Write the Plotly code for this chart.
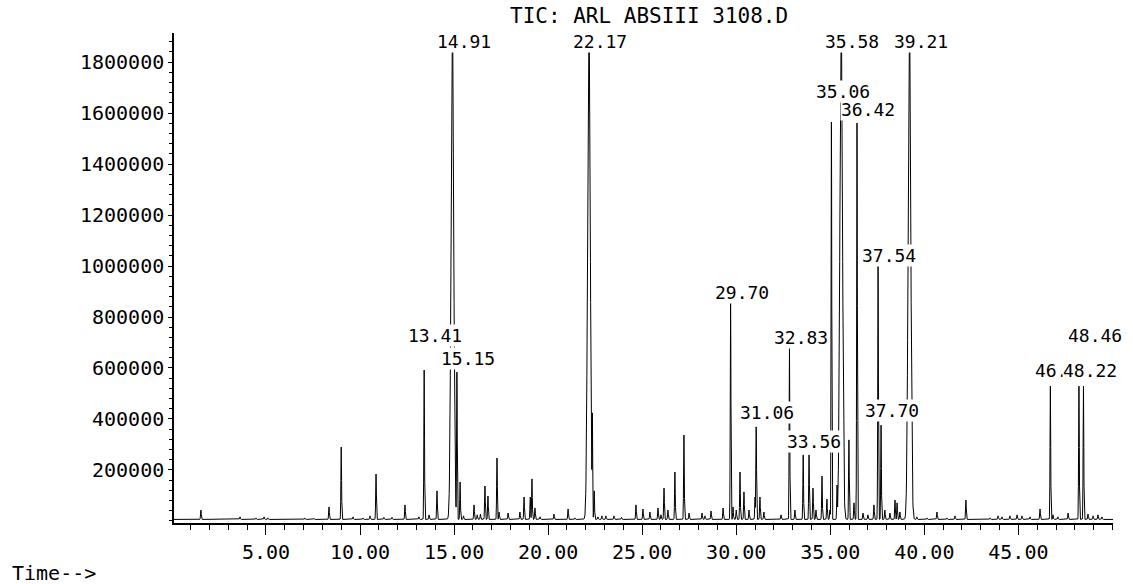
import numpy as np
import plotly.graph_objects as go

# ---------------- data ----------------
title_text = "TIC: ARL ABSIII 3108.D"
x_title = "Time-->"

# retention time (min) and abundance of each peak
peak_times = [
    1.54, 3.62, 4.47, 4.90, 5.10, 7.07, 7.55, 8.35, 9.00, 9.63, 10.16, 10.53, 10.85,
    11.27, 11.70, 12.39, 13.13, 13.41, 13.67, 14.09, 14.78, 14.91, 15.15, 15.32,
    15.50, 16.06, 16.23, 16.40, 16.64, 16.80, 17.28, 17.39, 17.87, 18.50, 18.72,
    19.05, 19.14, 19.30, 19.57, 20.31, 21.06, 21.43, 22.17, 22.35, 22.45, 22.65,
    22.86, 23.07, 23.50, 23.90, 24.67, 25.04, 25.41, 25.84, 26.00, 26.16, 26.37,
    26.74, 27.22, 27.49, 28.18, 28.34, 28.66, 29.30, 29.70, 29.83, 30.00, 30.20,
    30.41, 30.68, 31.00, 31.06, 31.26, 31.47, 32.38, 32.83, 33.12, 33.56, 33.87,
    34.08, 34.24, 34.56, 34.82, 34.98, 35.06, 35.36, 35.46, 35.58, 35.99, 36.26,
    36.42, 36.74, 37.00, 37.32, 37.54, 37.70, 37.90, 38.17, 38.44, 38.55, 38.70,
    39.21, 39.34, 39.60, 40.14, 40.67, 41.20, 41.63, 42.21, 42.60, 43.49, 43.92,
    44.13, 44.55, 44.93, 45.19, 45.62, 46.15, 46.70, 46.84, 47.10, 47.64, 48.22,
    48.46, 48.70, 48.97, 49.23, 49.44,
]
peak_heights = [
    43000, 16000, 12000, 16000, 12000, 12000, 10000, 55000, 290000, 16000, 12000,
    20000, 184000, 14000, 14000, 63000, 16000, 592000, 24000, 118000, 16000,
    1950000, 584000, 153000, 20000, 63000, 24000, 27000, 137000, 98000, 247000,
    35000, 31000, 35000, 94000, 94000, 165000, 51000, 16000, 27000, 47000, 12000,
    1950000, 424000, 118000, 16000, 20000, 20000, 20000, 14000, 63000, 47000,
    35000, 51000, 24000, 129000, 43000, 192000, 337000, 31000, 31000, 20000,
    39000, 51000, 855000, 55000, 43000, 192000, 114000, 43000, 94000, 369000,
    94000, 35000, 24000, 678000, 43000, 259000, 259000, 129000, 43000, 176000,
    86000, 43000, 1565000, 141000, 63000, 1950000, 318000, 71000, 1561000, 31000,
    24000, 63000, 1004000, 376000, 43000, 31000, 82000, 71000, 35000, 1950000,
    24000, 16000, 12000, 35000, 12000, 20000, 82000, 8000, 12000, 20000, 16000,
    20000, 24000, 20000, 16000, 47000, 529000, 24000, 16000, 31000, 529000,
    529000, 27000, 20000, 24000, 16000,
]
baseline_level = 6000

# labelled peaks (retention times printed above the peaks)
label_times = [14.91, 22.17, 35.58, 39.21, 35.06, 36.42, 37.54, 29.70, 13.41,
               48.46, 32.83, 15.15, 46.70, 48.22, 37.70, 31.06, 33.56]

# y-axis and x-axis tick values
y_tick_vals = [200000, 400000, 600000, 800000, 1000000, 1200000, 1400000, 1600000, 1800000]
x_tick_vals = [5, 10, 15, 20, 25, 30, 35, 40, 45]

# ---------------- layout-only values ----------------
label_y = [1879000, 1879000, 1879000, 1879000, 1683000, 1612000, 1043000, 898000,
           729000, 729000, 718000, 639000, 592000, 592000, 435000, 424000, 310000]
label_dx = 0.6  # minutes, label centre offset to the right of its peak

x_range = [0.11, 50.03]
y_range = [-8000, 1914000]

# ---------------- build the trace ----------------
t = np.round(np.arange(x_range[0], x_range[1] + 0.005, 0.01), 2)
signal = np.full_like(t, float(baseline_level))
for pt, ph in zip(peak_times, peak_heights):
    sigma = 0.07 if ph > 1800000 else 0.018
    signal = np.maximum(signal, baseline_level + (ph - baseline_level) * np.exp(-0.5 * ((t - pt) / sigma) ** 2))

fig = go.Figure()
fig.add_trace(go.Scatter(
    x=t, y=signal, mode="lines",
    line=dict(color="black", width=1),
    hoverinfo="skip", showlegend=False,
))

font_family = "DejaVu Sans Mono"

for lt, ly in zip(label_times, label_y):
    fig.add_annotation(
        x=lt + label_dx, y=ly, xref="x", yref="y",
        text=f"{lt:.2f}", showarrow=False,
        font=dict(family=font_family, size=18, color="black"),
        bgcolor="white", borderpad=0,
        xanchor="center", yanchor="middle",
    )

fig.add_annotation(
    x=0.506, y=1.034, xref="paper", yref="paper",
    text=title_text, showarrow=False,
    font=dict(family=font_family, size=21, color="black"),
    xanchor="center", yanchor="middle",
)
fig.add_annotation(
    x=-0.1747, y=-0.102, xref="paper", yref="paper",
    text=x_title, showarrow=False,
    font=dict(family=font_family, size=20, color="black"),
    xanchor="left", yanchor="middle",
)

fig.update_layout(
    width=1133, height=584,
    margin=dict(l=174, r=20, t=33, b=61),
    paper_bgcolor="white", plot_bgcolor="white",
    showlegend=False,
)
fig.update_xaxes(
    range=x_range, showgrid=False, zeroline=False,
    showline=True, linecolor="black", linewidth=1.5,
    tickmode="array", tickvals=x_tick_vals,
    ticktext=[f"{v:.2f}" for v in x_tick_vals],
    ticks="outside", ticklen=10, tickcolor="black", tickwidth=1,
    tickfont=dict(family=font_family, size=20, color="black"),
    minor=dict(dtick=1, tick0=0, ticks="outside", ticklen=5, tickcolor="black", showgrid=False),
)
fig.update_yaxes(
    range=y_range, showgrid=False, zeroline=False,
    showline=True, linecolor="black", linewidth=1.5,
    tickmode="array", tickvals=y_tick_vals,
    ticktext=[str(v) for v in y_tick_vals],
    ticks="outside", ticklen=4, tickcolor="black", tickwidth=1,
    tickfont=dict(family=font_family, size=20, color="black"),
    minor=dict(dtick=40000, tick0=0, ticks="outside", ticklen=3, tickcolor="black", showgrid=False),
)

fig.write_html("out.html")
